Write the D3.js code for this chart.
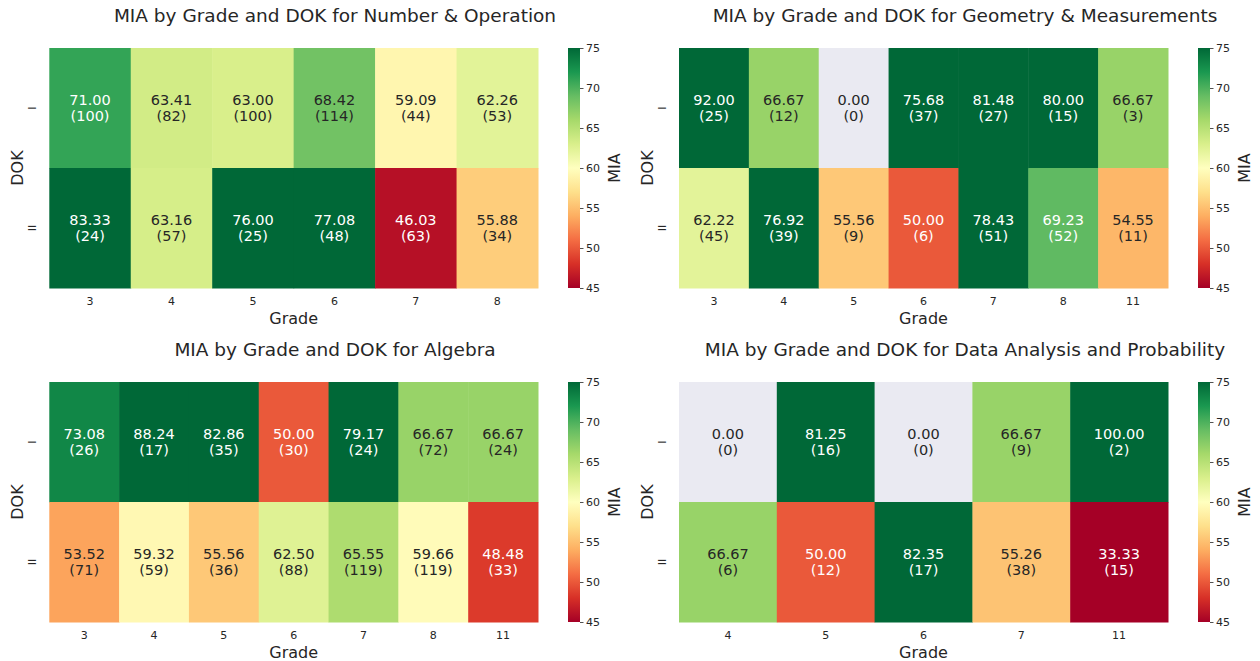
<!DOCTYPE html>
<html><head><meta charset="utf-8">
<script src="https://cdn.jsdelivr.net/npm/d3@7"></script>
<style>
body{margin:0;background:#fff;}
text{font-family:"DejaVu Sans",sans-serif;fill:#262626;}
</style></head>
<body><svg id="c" width="1260" height="661"></svg>
<script>
// ---- data ----
const doks = ["I", "II"];
const titles = [
  "MIA by Grade and DOK for Number & Operation",
  "MIA by Grade and DOK for Geometry & Measurements",
  "MIA by Grade and DOK for Algebra",
  "MIA by Grade and DOK for Data Analysis and Probability"
];
const gradesNum = ["3","4","5","6","7","8"];
const numI  = [71.00, 63.41, 63.00, 68.42, 59.09, 62.26];
const numII = [83.33, 63.16, 76.00, 77.08, 46.03, 55.88];
const numCntI  = [100, 82, 100, 114, 44, 53];
const numCntII = [24, 57, 25, 48, 63, 34];

const gradesGeo = ["3","4","5","6","7","8","11"];
const geoI  = [92.00, 66.67, 0.00, 75.68, 81.48, 80.00, 66.67];
const geoII = [62.22, 76.92, 55.56, 50.00, 78.43, 69.23, 54.55];
const geoCntI  = [25, 12, 0, 37, 27, 15, 3];
const geoCntII = [45, 39, 9, 6, 51, 52, 11];

const gradesAlg = ["3","4","5","6","7","8","11"];
const algI  = [73.08, 88.24, 82.86, 50.00, 79.17, 66.67, 66.67];
const algII = [53.52, 59.32, 55.56, 62.50, 65.55, 59.66, 48.48];
const algCntI  = [26, 17, 35, 30, 24, 72, 24];
const algCntII = [71, 59, 36, 88, 119, 119, 33];

const gradesDat = ["4","5","6","7","11"];
const datI  = [0.00, 81.25, 0.00, 66.67, 100.00];
const datII = [66.67, 50.00, 82.35, 55.26, 33.33];
const datCntI  = [0, 16, 0, 9, 2];
const datCntII = [6, 12, 17, 38, 15];

const cbTicks = [45, 50, 55, 60, 65, 70, 75];

const panels = [
  {grades: gradesNum, vals: [numI, numII], cnts: [numCntI, numCntII]},
  {grades: gradesGeo, vals: [geoI, geoII], cnts: [geoCntI, geoCntII]},
  {grades: gradesAlg, vals: [algI, algII], cnts: [algCntI, algCntII]},
  {grades: gradesDat, vals: [datI, datII], cnts: [datCntI, datCntII]}
];

// ---- colormap (matplotlib RdYlGn: linear over 11 brewer colours) ----
const brewer = ["#a50026","#d73027","#f46d43","#fdae61","#fee08b","#ffffbf","#d9ef8b","#a6d96a","#66bd63","#1a9850","#006837"];
const cm = d3.scaleLinear().domain(d3.range(11).map(i => 45 + i * 3)).range(brewer).interpolate(d3.interpolateRgb).clamp(true);
function lum(c){
  const r = d3.rgb(c);
  const f = v => { v /= 255; return v <= 0.03928 ? v / 12.92 : Math.pow((v + 0.055) / 1.055, 2.4); };
  return 0.2126 * f(r.r) + 0.7152 * f(r.g) + 0.0722 * f(r.b);
}

const svg = d3.select("#c");
const defs = svg.append("defs");
const grad = defs.append("linearGradient").attr("id","cbg").attr("x1",0).attr("y1",1).attr("x2",0).attr("y2",0);
brewer.forEach((c,i)=>grad.append("stop").attr("offset", i/10).attr("stop-color", c));

const cols = [{x0:49.3, x1:538, cb0:568, cbW:12, tc:335}, {x0:679, x1:1168, cb0:1198, cbW:12, tc:965}];
const rows = [{y0:48, y1:288, ty:17}, {y0:382, y1:622, ty:351}];

panels.forEach((p, pi) => {
  const C = cols[pi % 2], R = rows[Math.floor(pi / 2)];
  const g = svg.append("g");
  const x = d3.scaleBand().domain(p.grades).range([C.x0, C.x1]);
  const y = d3.scaleBand().domain(doks).range([R.y0, R.y1]);
  const cells = [];
  doks.forEach((d, di) => p.grades.forEach((gr, gi) => cells.push({d, gr, v: p.vals[di][gi], n: p.cnts[di][gi]})));
  g.selectAll("rect.cell").data(cells).join("rect")
    .attr("x", d => x(d.gr)).attr("y", d => y(d.d))
    .attr("width", x.bandwidth() + 0.5).attr("height", y.bandwidth() + 0.5)
    .attr("fill", d => d.v === 0 ? "#eaeaf2" : cm(d.v));
  const tg = g.selectAll("g.lab").data(cells).join("g")
    .attr("transform", d => `translate(${x(d.gr) + x.bandwidth() / 2},${y(d.d) + y.bandwidth() / 2})`);
  tg.append("text").attr("text-anchor","middle").attr("y", -7).attr("dominant-baseline","middle")
    .style("font-size","14.5px")
    .style("fill", d => d.v === 0 ? "#262626" : (lum(cm(d.v)) > 0.408 ? "#262626" : "#ffffff"))
    .text(d => d.v.toFixed(2));
  tg.append("text").attr("text-anchor","middle").attr("y", 9).attr("dominant-baseline","middle")
    .style("font-size","14.5px")
    .style("fill", d => d.v === 0 ? "#262626" : (lum(cm(d.v)) > 0.408 ? "#262626" : "#ffffff"))
    .text(d => "(" + d.n + ")");

  // x axis
  const xa = g.append("g").attr("transform", `translate(0,${R.y1})`)
    .call(d3.axisBottom(x).tickSize(0).tickPadding(9));
  xa.select(".domain").remove();
  xa.selectAll("text").style("font-size","11px").style("fill","#262626").attr("font-family","DejaVu Sans");
  // y axis
  const ya = g.append("g").attr("transform", `translate(${C.x0},0)`)
    .call(d3.axisLeft(y).tickSize(0).tickPadding(0));
  ya.select(".domain").remove();
  ya.selectAll(".tick text").attr("x", null).attr("dy", null).attr("text-anchor","middle")
    .attr("dominant-baseline","middle")
    .attr("transform","translate(-16,0) rotate(-90)")
    .style("font-size","11px").style("fill","#262626").attr("font-family","DejaVu Sans");

  // labels
  g.append("text").attr("x", (C.x0 + C.x1) / 2).attr("y", R.y1 + 31).attr("text-anchor","middle")
    .attr("dominant-baseline","middle").style("font-size","16px").text("Grade");
  g.append("text").attr("transform", `translate(${C.x0 - 31},${(R.y0 + R.y1) / 2}) rotate(-90)`)
    .attr("text-anchor","middle").attr("dominant-baseline","middle").style("font-size","16px").text("DOK");
  g.append("text").attr("x", C.tc).attr("y", R.ty).attr("text-anchor","middle")
    .attr("dominant-baseline","middle").style("font-size","18.5px").text(titles[pi]);

  // colorbar
  const cy = d3.scaleLinear().domain([45, 75]).range([R.y1, R.y0]);
  g.append("rect").attr("x", C.cb0).attr("y", R.y0).attr("width", C.cbW).attr("height", R.y1 - R.y0)
    .attr("fill", "url(#cbg)");
  const ca = g.append("g").attr("transform", `translate(${C.cb0 + C.cbW},0)`)
    .call(d3.axisRight(cy).tickValues(cbTicks).tickSize(3.5).tickPadding(2.5));
  ca.select(".domain").remove();
  ca.selectAll("line").attr("stroke","#262626").attr("stroke-width",0.8);
  ca.selectAll("text").style("font-size","11px").style("fill","#262626").attr("font-family","DejaVu Sans");
  g.append("text").attr("transform", `translate(${C.cb0 + C.cbW + 35},${(R.y0 + R.y1) / 2}) rotate(-90)`)
    .attr("text-anchor","middle").attr("dominant-baseline","middle").style("font-size","16px").text("MIA");
});
</script></body></html>
